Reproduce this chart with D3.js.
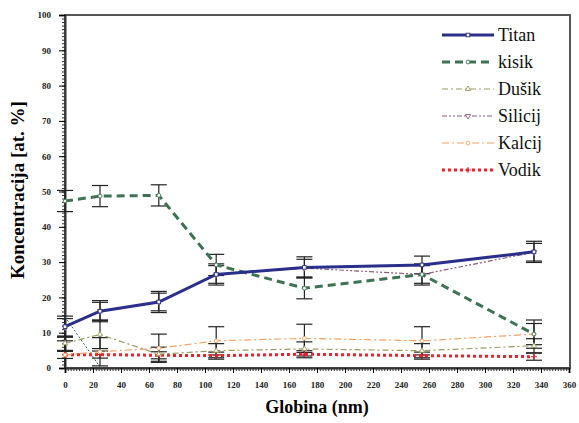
<!DOCTYPE html>
<html>
<head>
<meta charset="utf-8">
<script src="https://cdn.jsdelivr.net/npm/d3@7"></script>
<style>
  body { margin: 0; background: #fff; }
  svg text { font-family: "Liberation Serif", "DejaVu Serif", serif; }
</style>
</head>
<body>
<div id="chart"></div>
<script>
// Données
const depths = [0, 25, 67, 108, 171, 255, 335];
const titan = [11.7, 16.1, 18.7, 26.5, 28.5, 29.2, 32.9];
const kisik = [47.3, 48.7, 48.9, 29.2, 22.6, 26.5, 9.6];
const dusik = [7.0, 9.5, 3.9, 4.9, 5.4, 4.9, 6.3];
const silicij = [11.5, 16.1, 18.7, 26.5, 28.3, 26.5, 32.8];
const kalcij = [3.7, 4.6, 5.6, 7.7, 8.4, 7.7, 9.6];
const vodik = [3.7, 3.8, 3.6, 3.5, 3.9, 3.5, 3.2];
const titanErr = [3, 3, 3, 3, 3, 2.5, 3];
const kisikErr = [3, 3, 3, 3, 3, 3, 3];
const dusikErr = [2, 4, 2, 2, 2, 2, 2];
const silicijErr = [2.5, 2.5, 2.5, 2.5, 2.5, 2.5, 2.5];
const kalcijErr = [4, 4, 4, 4, 4, 4, 4];
const vodikErr = [1, 1, 1, 1, 1, 1, 1];
// petite ligne pointillée sans légende au début
const extraX = [0, 25];
const extraY = [14.5, 0.3];

const series = [
  { name: "Titan", values: titan, err: titanErr, color: "#2a2f8c", width: 3, dash: null, marker: "square" },
  { name: "kisik", values: kisik, err: kisikErr, color: "#3d7353", width: 3, dash: "8,5", marker: "circle" },
  { name: "Dušik", values: dusik, err: dusikErr, color: "#9b9a5e", width: 1.2, dash: "6,3,2,3", marker: "triangle" },
  { name: "Silicij", values: silicij, err: silicijErr, color: "#8b5b7d", width: 1.2, dash: "5,2,2,2,2,2", marker: "down" },
  { name: "Kalcij", values: kalcij, err: kalcijErr, color: "#f5a263", width: 1.2, dash: "7,3,2,3", marker: "circle" },
  { name: "Vodik", values: vodik, err: vodikErr, color: "#e8232a", width: 3, dash: "3,3", marker: "plus" },
];

const serif = "'Liberation Serif', 'DejaVu Serif', serif";
const width = 579;
const height = 423;
const margin = { top: 15, right: 9, bottom: 55, left: 65 };
const chartWidth = width - margin.left - margin.right;
const chartHeight = 368 - margin.top;

const svg = d3.select("#chart").append("svg")
  .attr("width", width)
  .attr("height", height)
  .style("font-family", serif);

const g = svg.append("g")
  .attr("transform", `translate(${margin.left},${margin.top})`);

const x = d3.scaleLinear().domain([0, 360]).range([0, 504]);
const y = d3.scaleLinear().domain([0, 100]).range([chartHeight, 0]);

// Cadre
g.append("rect")
  .attr("x", 0).attr("y", 0)
  .attr("width", chartWidth).attr("height", chartHeight)
  .attr("fill", "none")
  .attr("stroke", "#555")
  .attr("stroke-width", 2);

// Axe Y : graduations mineures puis majeures
g.append("g")
  .call(d3.axisLeft(y).tickValues(d3.range(0, 101, 1)).tickSize(3).tickFormat(""))
  .call(s => s.select(".domain").remove())
  .selectAll("line").attr("stroke", "#333");

const yAxis = g.append("g")
  .call(d3.axisLeft(y).tickValues(d3.range(0, 101, 10)).tickSize(6).tickPadding(8));
yAxis.attr("font-family", null);
yAxis.select(".domain").attr("stroke", "#333").attr("stroke-width", 2);
yAxis.selectAll("text")
  .style("font-family", serif)
  .style("font-size", "9px").style("font-weight", "bold").attr("fill", "#222");

// Axe X
g.append("g")
  .attr("transform", `translate(0,${chartHeight})`)
  .call(d3.axisBottom(x).tickValues(d3.range(0, 361, 2)).tickSize(3).tickFormat(""))
  .call(s => s.select(".domain").remove())
  .selectAll("line").attr("stroke", "#333");

const xAxis = g.append("g")
  .attr("transform", `translate(0,${chartHeight})`)
  .call(d3.axisBottom(x).tickValues(d3.range(0, 361, 20)).tickSize(5).tickPadding(9));
xAxis.attr("font-family", null);
xAxis.select(".domain").attr("stroke", "#333").attr("stroke-width", 2);
xAxis.selectAll("text")
  .style("font-family", serif)
  .style("font-size", "9px").style("font-weight", "bold").attr("fill", "#222");

// Titres des axes
svg.append("text")
  .attr("x", 317).attr("y", 413)
  .attr("text-anchor", "middle")
  .style("font-family", serif)
  .style("font-size", "18px").style("font-weight", "bold")
  .text("Globina (nm)");

svg.append("text")
  .attr("transform", "translate(24,190) rotate(-90)")
  .attr("text-anchor", "middle")
  .style("font-family", serif)
  .style("font-size", "19px").style("font-weight", "bold")
  .text("Koncentracija [at. %]");

// Barres d'erreur
const errG = g.append("g");
series.forEach(s => {
  s.values.forEach((v, i) => {
    const cx = x(depths[i]);
    const e = s.err[i];
    errG.append("line")
      .attr("x1", cx).attr("x2", cx)
      .attr("y1", y(Math.min(100, v + e))).attr("y2", y(Math.max(0, v - e)))
      .attr("stroke", "#222").attr("stroke-width", 1.2);
    [v + e, v - e].forEach(c => {
      if (c < 0) return;
      errG.append("line")
        .attr("x1", cx - 8).attr("x2", cx + 8)
        .attr("y1", y(c)).attr("y2", y(c))
        .attr("stroke", "#222").attr("stroke-width", 1.2);
    });
  });
});

// Ligne pointillée supplémentaire
g.append("path")
  .datum(extraX.map((d, i) => [d, extraY[i]]))
  .attr("d", d3.line().x(d => x(d[0])).y(d => y(d[1])))
  .attr("fill", "none")
  .attr("stroke", "#2e6b5a")
  .attr("stroke-width", 1)
  .attr("stroke-dasharray", "2,2");

const line = d3.line().x((d, i) => x(depths[i])).y(d => y(d));

function drawMarker(sel, type, cx, cy, color) {
  if (type === "square") {
    sel.append("rect").attr("x", cx - 1.8).attr("y", cy - 1.8).attr("width", 3.6).attr("height", 3.6)
      .attr("fill", "#fff").attr("stroke", color).attr("stroke-width", 0.9);
  } else if (type === "circle") {
    sel.append("circle").attr("cx", cx).attr("cy", cy).attr("r", 1.9)
      .attr("fill", "#fff").attr("stroke", color).attr("stroke-width", 0.9);
  } else if (type === "triangle" || type === "down") {
    const sym = d3.symbol().type(d3.symbolTriangle).size(12);
    sel.append("path").attr("d", sym)
      .attr("transform", `translate(${cx},${cy})` + (type === "down" ? " rotate(180)" : ""))
      .attr("fill", "#fff").attr("stroke", color).attr("stroke-width", 0.9);
  } else if (type === "plus") {
    sel.append("path").attr("d", `M${cx - 3},${cy}H${cx + 3}M${cx},${cy - 3}V${cy + 3}`)
      .attr("stroke", color).attr("stroke-width", 1);
  }
}

// Lignes des séries (ordre inverse pour que Titan soit dessus)
[...series].reverse().forEach(s => {
  g.append("path")
    .datum(s.values)
    .attr("d", line)
    .attr("fill", "none")
    .attr("stroke", s.color)
    .attr("stroke-width", s.width)
    .attr("stroke-dasharray", s.dash);
  const mg = g.append("g");
  s.values.forEach((v, i) => drawMarker(mg, s.marker, x(depths[i]), y(v), s.color));
});

// Légende
const legend = svg.append("g");
series.forEach((s, i) => {
  const ly = 35 + i * 27;
  legend.append("line")
    .attr("x1", 442).attr("x2", 494)
    .attr("y1", ly).attr("y2", ly)
    .attr("stroke", s.color)
    .attr("stroke-width", s.width)
    .attr("stroke-dasharray", s.dash);
  drawMarker(legend, s.marker, 468, ly, s.color);
  legend.append("text")
    .attr("x", 498).attr("y", ly + 6)
    .style("font-family", serif)
    .style("font-size", "18px")
    .attr("fill", "#111")
    .text(s.name);
});
</script>
</body>
</html>
